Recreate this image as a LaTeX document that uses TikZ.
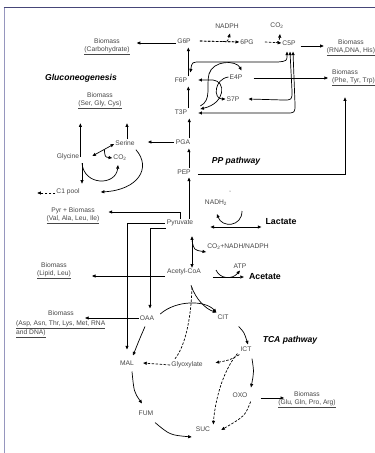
\documentclass[tikz,border=0pt]{standalone}
\usepackage{fontspec}
\setmainfont{Liberation Sans}
\usetikzlibrary{arrows.meta}
\definecolor{framedark}{RGB}{70,70,120}
\definecolor{framelight}{RGB}{150,150,190}
\definecolor{labelgrey}{RGB}{70,70,70}
\begin{document}
\begin{tikzpicture}[x=1pt,y=-1pt,>={Triangle[length=3.6pt,width=3pt]},
  every node/.style={font=\fontsize{6.7}{8}\selectfont,text=labelgrey,inner sep=1pt},
  bio/.style={align=center},
  big/.style={font=\fontsize{8.8}{10}\selectfont\bfseries,text=black},
  pwtitle/.style={font=\fontsize{8.6}{10}\selectfont\bfseries\itshape,text=black},
  arr/.style={->,line width=0.7pt},
  arrb/.style={<->,line width=0.7pt},
  dsh/.style={->,line width=0.7pt,dash pattern=on 2.5pt off 1.5pt}]
\useasboundingbox (0,0) rectangle (375,453);
% frame
\draw[framelight,line width=1pt] (4,453) -- (4,7.5);
\draw[framedark,line width=0.8pt] (3.5,7.5) -- (375,7.5);
% gluconeogenesis backbone
\node (g6p) at (184,41) {G6P};
\node (f6p) at (181,80) {F6P};
\node (t3p) at (181,112) {T3P};
\node (pga) at (183,142) {PGA};
\node (pep) at (184,172) {PEP};
\node (pyr) at (180,223) {Pyruvate};
\node[bio] (bcarb) at (107,47) {Biomass\\\underline{(Carbohydrate)}};
\node[pwtitle] (gng) at (81,78) {Gluconeogenesis};
\draw[arr,shorten >=6pt] ([yshift=-2pt]g6p.west) -- ([yshift=-2pt]g6p.west -| bcarb.east);
\draw[arr,shorten >=3pt] (f6p.north east) -- (f6p.north east |- g6p.south);
\draw[arr,shorten >=3pt] (t3p.north east) -- (t3p.north east |- f6p.south);
\draw[arr,shorten >=3pt] ([xshift=-2pt]pga.north east) -- ([xshift=-2pt]pga.north east |- t3p.south);
\draw[arr,shorten >=3pt] ([xshift=-3pt]pep.north east) -- ([xshift=-3pt]pep.north east |- pga.south);
\draw[arr,shorten >=2pt] ([xshift=9pt]pyr.north) -- ([xshift=9pt]pyr.north |- pep.south);
% PP pathway
\node (nadph) at (227,26) {NADPH};
\node (pg6) at (247,42) {6PG};
\node (co2a) at (277,26) {CO\textsubscript{2}};
\node (c5p) at (289,43) {C5P};
\node (e4p) at (236,77) {E4P};
\node (s7p) at (233,99) {S7P};
\node[bio] (brna) at (351,48) {Biomass\\\underline{(RNA,DNA, His)}};
\node[bio,align=left,anchor=west] (bphe) at (331,78) {Biomass\\\underline{(Phe, Tyr, Trp)}};
\node[pwtitle] (ppp) at (236,161) {PP pathway};
\draw[dsh,-] ([xshift=8pt]g6p.east) -- coordinate[pos=0.58] (gdh) (pg6.west);
\draw[dsh] ([xshift=8pt]g6p.east) -- (pg6.west);
\draw[dsh] (gdh) .. controls +(5,0) .. ([xshift=3pt,yshift=-4pt]nadph.south);
\draw[dsh] ([xshift=10pt]pg6.east) -- coordinate[pos=0.7] (pgd) (c5p.west);
\draw[dsh] (pgd) .. controls +(3,-2) .. ([xshift=3pt,yshift=-4pt]co2a.south);
\draw[arr] ([xshift=4pt,yshift=-3pt]c5p.east) -- ([xshift=-2pt,yshift=-3pt]c5p.east -| brna.west);
\draw[arrb] ([xshift=-2pt,yshift=-5pt]c5p.south) .. controls (287,61) .. (278,62) -- (201,62) .. controls (192,62) .. ([xshift=2pt,yshift=4pt]f6p.north east);
\draw[arrb] ([xshift=1pt,yshift=-5pt]c5p.south) -- (292,91) .. controls (292,100) .. (283,100) -- ([xshift=8pt]s7p.east);
\draw[arrb] ([xshift=4pt,yshift=-5pt]c5p.south) -- (295,104) .. controls (295,113) .. (286,113) -- ([xshift=10pt,yshift=-1pt]t3p.east);
\draw[arrb] ([xshift=10pt]f6p.east) -- (213,80) .. controls (226,81) and (226,103) .. ([xshift=12pt,yshift=3pt]t3p.east);
\draw[arr] ([xshift=12pt,yshift=6pt]t3p.east) .. controls (212,100) and (206,86) .. (209,74) .. controls (213,60) and (236,60) .. ([xshift=-2pt,yshift=3pt]e4p.north east);
\draw[arr] (e4p.west) .. controls (214,79) and (213,99) .. (s7p.west);
\draw[arr] ([xshift=10pt,yshift=-1pt]e4p.east) -- ([xshift=-3pt,yshift=-1pt]e4p.east -| bphe.west);
\draw[arr,shorten >=10pt] ([xshift=6pt,yshift=-2pt]pep.east) -| ([xshift=14pt]bphe.south west);
% serine / glycine
\node (serine) at (125,143) {Serine};
\node (glycine) at (68,157) {Glycine};
\node (co2b) at (120,158) {CO\textsubscript{2}};
\node (c1) at (68,192) {C1 pool};
\node[bio] (bsgc) at (100,101) {Biomass\\\underline{(Ser, Gly, Cys)}};
\draw[arr] ([xshift=-1pt]pga.west) -- ([xshift=12pt]pga.west -| serine.east);
\draw[arr,shorten >=13pt] ([xshift=2pt]serine.north) -- ([xshift=2pt]serine.north |- bsgc.south);
\draw[arr,shorten >=13pt] (glycine.east) -- (glycine.east |- bsgc.south);
\draw[arrb] ([yshift=-1pt]serine.west) -- coordinate[pos=0.45] (gs) ([xshift=12pt,yshift=1pt]glycine.east);
\draw[arr] (gs) .. controls (105,157) .. (co2b.west);
\draw[arr] ([xshift=14pt,yshift=-2pt]glycine.south) .. controls (84,186) and (116,186) .. ([xshift=-2pt,yshift=-3pt]co2b.south);
\draw[arr,shorten >=4pt] ([xshift=14pt,yshift=-2pt]glycine.south) -- ([xshift=14pt]glycine.south |- c1.north);
\draw[dsh] ([yshift=-1pt]c1.west) -- ([xshift=-18pt,yshift=-1pt]c1.west);
\draw[arr] ([yshift=-3pt]serine.south east) .. controls (152,168) and (138,190) .. ([xshift=20pt]c1.east);
% pyruvate node
\node[bio] (bval) at (73,216) {Pyr + Biomass\\\underline{(Val, Ala, Leu, Ile)}};
\node[big] (lactate) at (281,222) {Lactate};
\node (nadh) at (216,203) {NADH\textsubscript{2}};
\coordinate (nadhin) at (242,211);
\draw[arr] (pyr.north) |- ([xshift=8pt,yshift=4pt]bval.east);
\draw[arrb] ([xshift=16pt,yshift=-4pt]pyr.east) -- ([xshift=-3pt,yshift=-5pt]lactate.west);
\draw[arr] (nadhin) .. controls (242,227) and (222,228) .. ([xshift=1pt,yshift=-7pt]nadh.south);
\fill[labelgrey] (230,191) circle (0.5);
% acetyl-CoA
\node (accoa) at (184,272) {Acetyl-CoA};
\node (co2c) at (238,247) {CO\textsubscript{2}+NADH/NADPH};
\node (atp) at (240,266) {ATP};
\node[big] (acetate) at (265,277) {Acetate};
\node[bio] (blip) at (54,271) {Biomass\\\underline{(Lipid, Leu)}};
\coordinate (atpin) at (216,270);
\draw[arrb,shorten <=9pt] ([xshift=12pt]pyr.south) -- coordinate[pos=0.33] (pdh) ([xshift=12pt]pyr.south |- accoa.north);
\draw[arr] (pdh) .. controls (194,250) .. ([yshift=-5pt]co2c.west);
\draw[arr,shorten >=20pt] ([xshift=-1pt,yshift=-4pt]accoa.west) -- ([yshift=-4pt]accoa.west -| blip.east);
\draw[arr] ([xshift=11pt,yshift=-5pt]accoa.east) -- ([xshift=-4pt]acetate.west);
\draw[arr] (atpin) .. controls (220,279) and (232,280) .. ([yshift=-1pt]atp.south);
% TCA cycle
\node (oaa) at (147,318) {OAA};
\node (cit) at (223,317) {CIT};
\node (ict) at (246,349) {ICT};
\node (glyox) at (187,365) {Glyoxylate};
\node (mal) at (127,363) {MAL};
\node (oxo) at (240,395) {OXO};
\node (fum) at (146,413) {FUM};
\node (suc) at (203,429) {SUC};
\node (basp) at (61,313) {Biomass};
\node[align=left,anchor=north west] (basptxt) at (15,319) {\underline{(Asp, Asn, Thr, Lys, Met, RNA}\\\underline{and DNA)}};
\node[bio] (bglu) at (307,400) {Biomass\\\underline{(Glu, Gln, Pro, Arg)}};
\node[pwtitle] (tca) at (290,340) {TCA pathway};
\draw[arr,shorten <=1pt,shorten >=10pt] (pyr.west) -| (mal.north);
\draw[arr,shorten >=6pt] ([yshift=-5pt]pyr.west) -| ([xshift=3pt]oaa.north);
\draw[arr,shorten >=10pt] (oaa.west) -- (oaa.west -| basp.east);
\draw[arr] ([xshift=5pt,yshift=4pt]oaa.east) .. controls (176,300) and (205,300) .. ([yshift=1pt]cit.north west);
\draw[arr] ([xshift=7pt,yshift=-9pt]accoa.south) .. controls (196,300) and (206,309) .. ([yshift=1pt]cit.north west);
\draw[dsh,-] ([xshift=8pt,yshift=-11pt]accoa.south) .. controls (191,322) and (184,348) .. ([xshift=-12pt,yshift=2pt]glyox.north);
\draw[dsh] (glyox.west) -- ([xshift=8pt]mal.east);
\draw[dsh,shorten >=12pt] ([yshift=-2pt]ict.south west) .. controls (230,360) .. (glyox.east);
\draw[dsh] ([xshift=-2pt,yshift=-1pt]ict.south west) .. controls (222,372) and (215,402) .. ([xshift=2pt,yshift=1pt]suc.north east);
\draw[dsh] ([xshift=2pt,yshift=-3pt]oxo.south east) .. controls (245,416) .. ([xshift=10pt,yshift=-1pt]suc.east);
\draw[arr] ([xshift=9pt,yshift=-6pt]cit.south east) .. controls (244,332) .. ([xshift=2pt,yshift=1pt]ict.north);
\draw[arr] ([xshift=6pt,yshift=-6pt]ict.south) .. controls (254,372) .. ([xshift=11pt,yshift=4pt]oxo.north);
\draw[arr] ([xshift=12pt,yshift=-3pt]oxo.east) -- ([xshift=7pt,yshift=-3pt]oxo.east -| bglu.west);
\draw[arr] ([xshift=-2pt,yshift=-5pt]oaa.south) .. controls (140,338) .. ([xshift=6pt,yshift=4pt]mal.north);
\draw[arr] ([xshift=5pt,yshift=-5pt]mal.south) .. controls (134,392) .. ([xshift=-4pt,yshift=6pt]fum.north);
\draw[arr] ([xshift=9pt,yshift=-6pt]fum.south) .. controls (170,435) .. ([xshift=-3pt,yshift=-8pt]suc.west);
\end{tikzpicture}
\end{document}
